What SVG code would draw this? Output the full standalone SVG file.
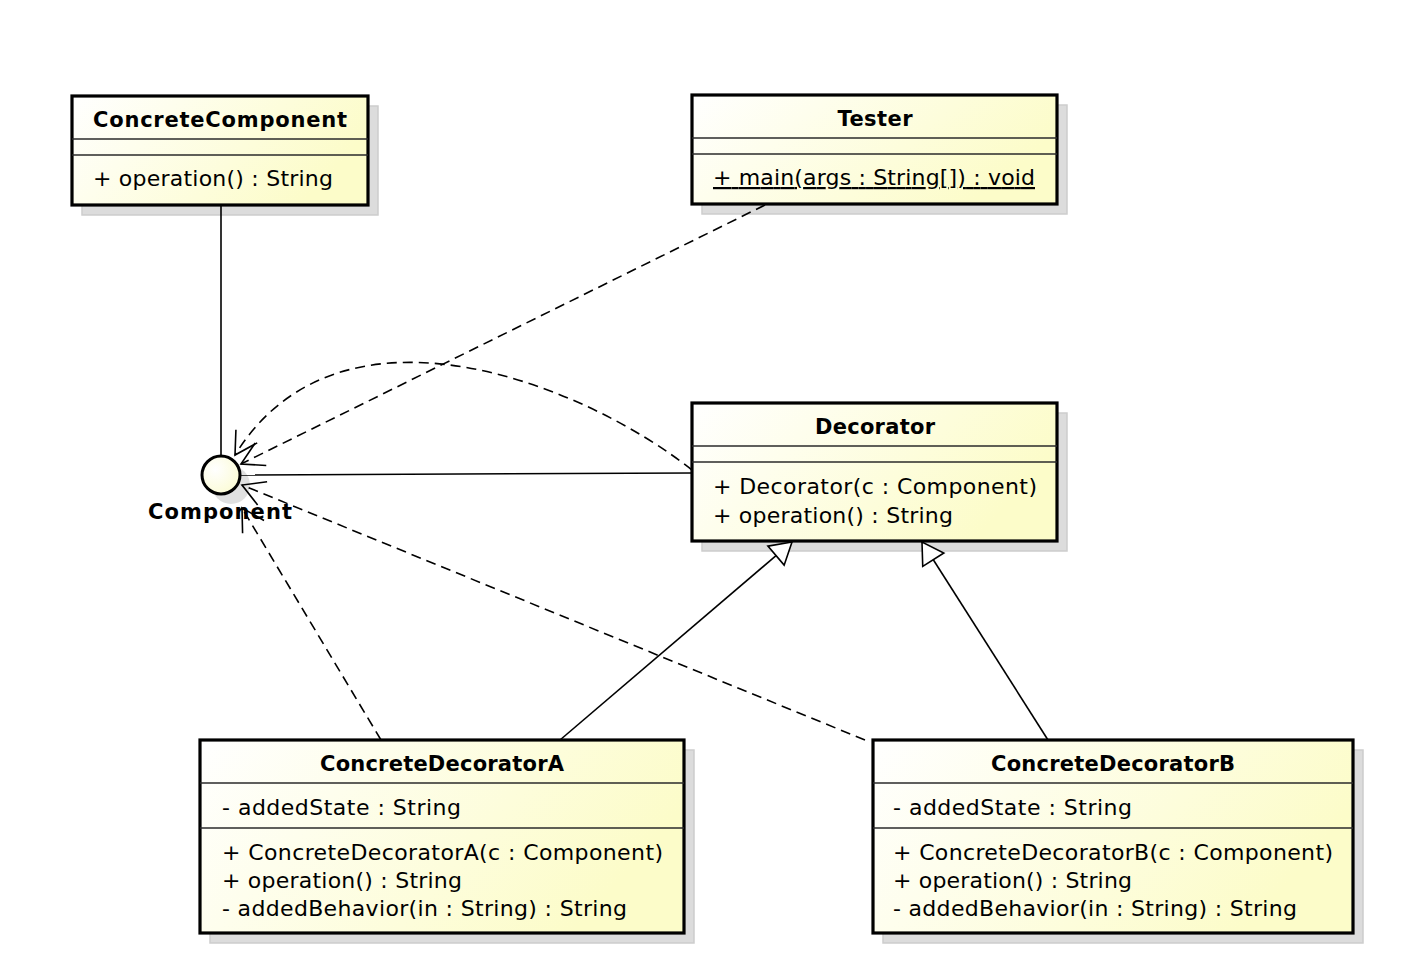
<svg xmlns="http://www.w3.org/2000/svg" width="1416" height="976" viewBox="0 0 1416 976">
  <defs>
    <linearGradient id="classFill" x1="0" y1="0" x2="1" y2="0.35">
      <stop offset="0" stop-color="#ffffff"/>
      <stop offset="1" stop-color="#fcfcc9"/>
    </linearGradient>
    <radialGradient id="ballFill" cx="0.35" cy="0.35" r="0.7">
      <stop offset="0" stop-color="#ffffff"/>
      <stop offset="1" stop-color="#fbfbd6"/>
    </radialGradient>
    <!-- open arrowhead for dependencies -->
    <marker id="openArrow" markerUnits="userSpaceOnUse" viewBox="-26 -16 30 32" refX="0" refY="0" markerWidth="30" markerHeight="32" orient="auto" overflow="visible">
      <path d="M -22 -12.5 L 0 0 L -22 12.5" fill="none" stroke="#000" stroke-width="1.6"/>
    </marker>
    <!-- hollow triangle for generalization -->
    <marker id="hollowTri" markerUnits="userSpaceOnUse" viewBox="-24 -15 28 30" refX="0" refY="0" markerWidth="28" markerHeight="30" orient="auto" overflow="visible">
      <path d="M 0 0 L -21 -12.5 L -21 12.5 Z" fill="#fff" stroke="#000" stroke-width="1.6" stroke-linejoin="miter"/>
    </marker>
  </defs>
  <style>
    .shadow { fill: #dcdcdc; stroke: #cdcdcd; stroke-width: 1.5; }
    .box { fill: url(#classFill); stroke: #000; stroke-width: 3.2; }
    .sep { stroke: #2a2a2a; stroke-width: 1.5; }
    .title { font-family: "DejaVu Sans", sans-serif; font-weight: bold; font-size: 21px; fill: #000; text-anchor: middle; }
    .member { font-family: "DejaVu Sans", sans-serif; font-size: 22px; fill: #000; }
    .static { text-decoration: underline; }
    .solid { fill: none; stroke: #000; stroke-width: 1.6; }
    .dashed { fill: none; stroke: #000; stroke-width: 1.6; stroke-dasharray: 10 6; }
  </style>

  <rect width="1416" height="976" fill="#ffffff"/>

  <!-- ConcreteComponent -->
  <g id="ConcreteComponent">
    <rect class="shadow" x="82" y="106" width="296" height="109"/>
    <rect class="box" x="72" y="96" width="296" height="109"/>
    <line class="sep" x1="72" y1="139" x2="368" y2="139"/>
    <line class="sep" x1="72" y1="155" x2="368" y2="155"/>
    <text class="title" x="220" y="127" textLength="254" lengthAdjust="spacing">ConcreteComponent</text>
    <text class="member" x="93" y="186" textLength="240" lengthAdjust="spacing">+ operation() : String</text>
  </g>

  <!-- Tester -->
  <g id="Tester">
    <rect class="shadow" x="702" y="105" width="365" height="109"/>
    <rect class="box" x="692" y="95" width="365" height="109"/>
    <line class="sep" x1="692" y1="138" x2="1057" y2="138"/>
    <line class="sep" x1="692" y1="154" x2="1057" y2="154"/>
    <text class="title" x="875" y="126" textLength="75" lengthAdjust="spacing">Tester</text>
    <text class="member static" x="713" y="185" textLength="322" lengthAdjust="spacing">+ main(args : String[]) : void</text>
  </g>

  <!-- Decorator -->
  <g id="Decorator">
    <rect class="shadow" x="702" y="413" width="365" height="138"/>
    <rect class="box" x="692" y="403" width="365" height="138"/>
    <line class="sep" x1="692" y1="446" x2="1057" y2="446"/>
    <line class="sep" x1="692" y1="462" x2="1057" y2="462"/>
    <text class="title" x="875" y="434" textLength="120" lengthAdjust="spacing">Decorator</text>
    <text class="member" x="713" y="494" textLength="324" lengthAdjust="spacing">+ Decorator(c : Component)</text>
    <text class="member" x="713" y="523" textLength="240" lengthAdjust="spacing">+ operation() : String</text>
  </g>

  <!-- ConcreteDecoratorA -->
  <g id="ConcreteDecoratorA">
    <rect class="shadow" x="210" y="750" width="484" height="193"/>
    <rect class="box" x="200" y="740" width="484" height="193"/>
    <line class="sep" x1="200" y1="783" x2="684" y2="783"/>
    <line class="sep" x1="200" y1="828" x2="684" y2="828"/>
    <text class="title" x="442" y="771" textLength="244" lengthAdjust="spacing">ConcreteDecoratorA</text>
    <text class="member" x="222" y="815" textLength="239" lengthAdjust="spacing">- addedState : String</text>
    <text class="member" x="222" y="860" textLength="441" lengthAdjust="spacing">+ ConcreteDecoratorA(c : Component)</text>
    <text class="member" x="222" y="888" textLength="240" lengthAdjust="spacing">+ operation() : String</text>
    <text class="member" x="222" y="916" textLength="405" lengthAdjust="spacing">- addedBehavior(in : String) : String</text>
  </g>

  <!-- ConcreteDecoratorB -->
  <g id="ConcreteDecoratorB">
    <rect class="shadow" x="883" y="750" width="480" height="193"/>
    <rect class="box" x="873" y="740" width="480" height="193"/>
    <line class="sep" x1="873" y1="783" x2="1353" y2="783"/>
    <line class="sep" x1="873" y1="828" x2="1353" y2="828"/>
    <text class="title" x="1113" y="771" textLength="244" lengthAdjust="spacing">ConcreteDecoratorB</text>
    <text class="member" x="893" y="815" textLength="239" lengthAdjust="spacing">- addedState : String</text>
    <text class="member" x="893" y="860" textLength="440" lengthAdjust="spacing">+ ConcreteDecoratorB(c : Component)</text>
    <text class="member" x="893" y="888" textLength="239" lengthAdjust="spacing">+ operation() : String</text>
    <text class="member" x="893" y="916" textLength="404" lengthAdjust="spacing">- addedBehavior(in : String) : String</text>
  </g>

  <!-- Component interface (ball) -->
  <g id="Component">
    <circle cx="231" cy="485" r="19" fill="#d6d6d6" opacity="0.75"/>
    <circle cx="221" cy="475" r="19" fill="url(#ballFill)" stroke="#000" stroke-width="3"/>
    <text class="title" x="220" y="519" textLength="144" lengthAdjust="spacing">Component</text>
  </g>

  <!-- Connectors -->
  <g id="connectors">
    <!-- ConcreteComponent realizes Component -->
    <line class="solid" x1="221" y1="205" x2="221" y2="456"/>
    <!-- Decorator realizes Component -->
    <line class="solid" x1="692" y1="473" x2="240" y2="475"/>
    <!-- dependencies on Component -->
    <path class="dashed" d="M 765 205 L 241 464" marker-end="url(#openArrow)"/>
    <path class="dashed" d="M 692 470 C 585 385 340 285 235 455" marker-end="url(#openArrow)"/>
    <path class="dashed" d="M 381 740 L 242 508" marker-end="url(#openArrow)"/>
    <path class="dashed" d="M 865 740 L 242 485" marker-end="url(#openArrow)"/>
    <!-- generalizations to Decorator -->
    <path class="solid" d="M 560 740 L 792 542" marker-end="url(#hollowTri)"/>
    <path class="solid" d="M 1048 740 L 922 542" marker-end="url(#hollowTri)"/>
  </g>
</svg>
